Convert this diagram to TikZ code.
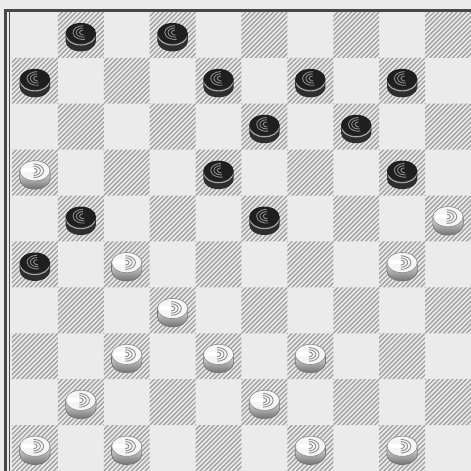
\documentclass[tikz,border=0pt]{standalone}
\usetikzlibrary{calc}
\begin{document}
\begin{tikzpicture}[x=1cm, y=1cm,
    hatch/.style={black!36, line width=0.85pt},
    frameline/.style={black!72},
    blackpiece/.pic={
        \fill[black!82] (-0.33,0) -- (-0.33,-0.18) arc[start angle=180, end angle=360, x radius=0.33, y radius=0.22] -- (0.33,0) -- cycle;
        \draw[black!35, line width=0.7pt] (-0.31,-0.06) arc[start angle=180, end angle=360, x radius=0.31, y radius=0.2];
        \fill[black!88] (0,0) ellipse[x radius=0.33, y radius=0.22];
        \foreach \s in {0.08,0.15,0.22}
            \draw[black!45, line width=0.55pt] (0.05,{0.01+0.68*\s}) arc[start angle=90, end angle=280, x radius=\s, y radius=0.68*\s];
    },
    whitepiece/.pic={
        \shade[top color=black!12, bottom color=black!55] (-0.33,0) -- (-0.33,-0.18) arc[start angle=180, end angle=360, x radius=0.33, y radius=0.22] -- (0.33,0) -- cycle;
        \draw[black!55, line width=0.4pt] (-0.33,0) -- (-0.33,-0.18) arc[start angle=180, end angle=360, x radius=0.33, y radius=0.22] -- (0.33,0);
        \fill[black!4] (0,0) ellipse[x radius=0.33, y radius=0.22];
        \draw[black!45, line width=0.4pt] (0,0) ellipse[x radius=0.33, y radius=0.22];
        \foreach \s in {0.08,0.15,0.22}
            \draw[black!45, line width=0.55pt] (-0.03,{-0.68*\s}) arc[start angle=-90, end angle=90, x radius=\s, y radius=0.68*\s];
        \fill[white] (-0.27,-0.03) rectangle (-0.03,0.05);
    }]
    % Fond
    \fill[black!8] (-0.26,-10) rectangle (10,0.26);
    \useasboundingbox (-0.26,-10) rectangle (10,0.26);

    % Cases foncees (hachurees)
    \begin{scope}
        \clip \foreach \r in {0,...,9} { \foreach \k in {0,...,4} { ({2*\k+mod(\r+1,2)},-\r) rectangle ++(1,-1) } };
        \foreach \k in {0,...,200} {
            \draw[hatch] ({\k*0.1-10},-10) -- ++(10,10);
        }
    \end{scope}

    % Cadre
    \draw[frameline, line width=1.8pt] (-0.14,0.06) -- (-0.14,-10);
    \draw[frameline, line width=0.6pt] (-0.055,0.03) -- (-0.055,-10);
    \draw[frameline, line width=1.8pt] (-0.18,0.035) -- (10,0.035);

    % Pions noirs
    \foreach \c/\r in {1/0, 3/0, 0/1, 4/1, 6/1, 8/1, 5/2, 7/2, 4/3, 8/3, 1/4, 5/4, 0/5} {
        \pic at ({\c+0.5},{-\r-0.46}) {blackpiece};
    }

    % Pions blancs
    \foreach \c/\r in {0/3, 9/4, 2/5, 8/5, 3/6, 2/7, 4/7, 6/7, 1/8, 5/8, 0/9, 2/9, 6/9, 8/9} {
        \pic at ({\c+0.5},{-\r-0.46}) {whitepiece};
    }
\end{tikzpicture}
\end{document}
